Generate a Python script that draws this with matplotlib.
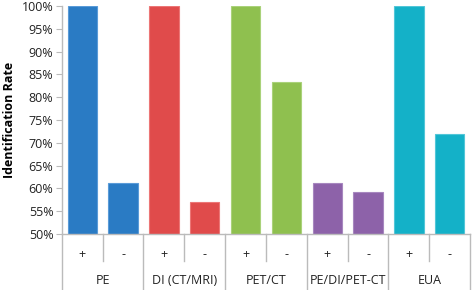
import matplotlib.pyplot as plt
import matplotlib.transforms as mtransforms
from matplotlib.ticker import FuncFormatter, MultipleLocator

plt.rcParams['font.family'] = ['Open Sans', 'DejaVu Sans']

groups = ['PE', 'DI (CT/MRI)', 'PET/CT', 'PE/DI/PET-CT', 'EUA']
signs = ['+', '-']
pos_rate = [100, 100, 100, 61.3, 100]
neg_rate = [61.3, 57.1, 83.3, 59.2, 72.0]
colors = ['#2a7bc4', '#e04b4b', '#8fc04f', '#8d62a9', '#14b1c8']
edges = ['#5a9bd8', '#ec7676', '#aad27a', '#a787bf', '#52c6d8']

fig = plt.figure(figsize=(4.72, 2.90), dpi=100)
ax = fig.add_axes([0.131, 0.193, 0.865, 0.786])

n = len(groups)
x = []
h = []
c = []
e = []
for i in range(n):
    x += [2 * i, 2 * i + 1]
    h += [pos_rate[i], neg_rate[i]]
    c += [colors[i]] * 2
    e += [edges[i]] * 2

ax.bar(x, [v - 50 for v in h], bottom=50, width=0.72, color=c,
       edgecolor=e, linewidth=0.8)

ax.set_xlim(-0.5, 2 * n - 0.5)
ax.set_ylim(50, 100)
ax.yaxis.set_major_locator(MultipleLocator(5))
ax.yaxis.set_major_formatter(FuncFormatter(lambda v, p: f'{v:.0f}%'))
ax.tick_params(axis='y', labelsize=9, labelcolor='#222222', length=4,
               width=0.8, pad=2, color='#bbbbbb')
ax.set_xticks(x)
ax.set_xticklabels(signs * n, fontsize=9, color='#222222')
ax.tick_params(axis='x', length=0, pad=10)

for s in ['top', 'right']:
    ax.spines[s].set_visible(False)
ax.spines['left'].set_color('#bbbbbb')
ax.spines['bottom'].set_color('#bbbbbb')
ax.spines['left'].set_linewidth(1.0)
ax.spines['bottom'].set_linewidth(1.0)

trans = mtransforms.blended_transform_factory(ax.transData, ax.transAxes)
line_kw = dict(color='#bbbbbb', lw=1.0, transform=trans, clip_on=False)
for i in range(n):
    # short divider between + and -
    ax.plot([2 * i + 0.5, 2 * i + 0.5], [0, -0.12], **line_kw)
    # long group separators
    ax.plot([2 * i + 1.5, 2 * i + 1.5], [0, -0.25], **line_kw)
    ax.text(2 * i + 0.5, -0.205, groups[i], transform=trans, ha='center',
            va='center', fontsize=9, color='#222222')
ax.plot([-0.5, -0.5], [0, -0.25], **line_kw)

ax.set_ylabel('Identification Rate', fontsize=9, fontweight='bold',
              labelpad=4)

fig.savefig('out.png', dpi=100)
